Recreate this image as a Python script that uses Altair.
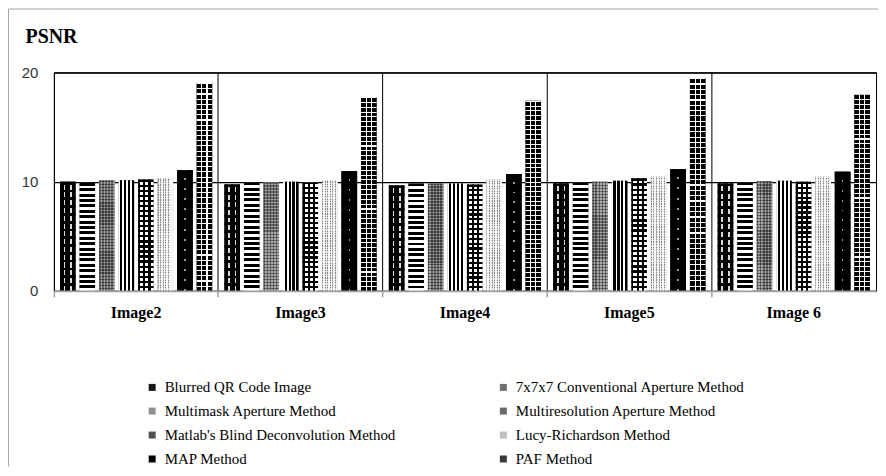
import altair as alt
import pandas as pd

categories = ["Image2", "Image3", "Image4", "Image5", "Image 6"]
methods = [
    "Blurred QR Code Image",
    "7x7x7 Conventional Aperture Method",
    "Multimask Aperture Method",
    "Multiresolution Aperture Method",
    "Matlab's Blind Deconvolution Method",
    "Lucy-Richardson Method",
    "MAP Method",
    "PAF Method",
]
blurred = [9.98, 9.74, 9.65, 9.84, 9.84]
conventional = [9.89, 9.95, 9.84, 9.95, 9.95]
multimask = [10.1, 9.95, 9.84, 10.0, 10.03]
multires = [10.13, 9.98, 9.84, 10.07, 10.07]
matlab = [10.2, 9.95, 9.74, 10.3, 10.0]
lucy = [10.32, 10.14, 10.2, 10.44, 10.44]
map_m = [11.05, 10.96, 10.7, 11.14, 10.9]
paf = [19.03, 17.75, 17.4, 19.48, 18.0]
series = [blurred, conventional, multimask, multires, matlab, lucy, map_m, paf]

rows = []
for m, vals in zip(methods, series):
    for c, v in zip(categories, vals):
        rows.append({"image": c, "method": m, "value": v})
df = pd.DataFrame(rows)

W, H = 824, 219

# ---- pattern helpers (styles only) ----
T = "rgba(0,0,0,0)"


def stops_from(segments):
    stops, pos = [], 0.0
    for col, ln in segments:
        stops.append({"offset": round(min(pos, 1.0), 4), "color": col})
        pos += ln
        stops.append({"offset": round(min(pos, 1.0), 4), "color": col})
    stops[-1]["offset"] = 1.0
    return stops


def grad(segments, direction):
    g = {"gradient": "linear", "stops": stops_from(segments)}
    if direction == "v":
        g.update(x1=0, y1=0, x2=1, y2=0)
    else:
        g.update(x1=0, y1=0, x2=0, y2=1)
    return g


def periodic(n, c1, c2, duty):
    return [(c1, duty / n), (c2, (1 - duty) / n)] * n


patterns = {
    methods[0]: [
        "#000000",
        grad([(T, .24), ("rgba(255,255,255,0.85)", .1), (T, .32), ("rgba(255,255,255,0.85)", .1), (T, .24)], "v"),
        grad(periodic(14, "#000000", T, 0.35), "h"),
    ],
    methods[1]: [
        grad(periodic(20, "#000000", "#ffffff", 0.55), "h"),
    ],
    methods[2]: [
        "#ababab",
        grad(periodic(36, "rgba(0,0,0,0.4)", T, 0.5), "h"),
        grad(periodic(5, "rgba(0,0,0,0.4)", T, 0.5), "v"),
    ],
    methods[3]: [
        grad(periodic(4, "#ffffff", "#000000", 0.42), "v"),
    ],
    methods[4]: [
        "#ffffff",
        grad(periodic(22, "#000000", T, 0.45), "h"),
        grad(periodic(3, "#000000", T, 0.4), "v"),
    ],
    methods[5]: [
        "#f2f2f2",
        grad(periodic(6, "rgba(0,0,0,0.45)", T, 0.35), "v"),
        grad(periodic(45, "rgba(255,255,255,0.6)", T, 0.5), "h"),
    ],
    methods[6]: [
        "#000000",
        grad([(T, .45), ("rgba(255,255,255,0.6)", .1), (T, .45)], "v"),
        grad(periodic(12, "#000000", T, 0.8), "h"),
    ],
    methods[7]: [
        "#000000",
        grad([(T, .3), ("#ffffff", .07), (T, .26), ("#ffffff", .07), (T, .3)], "v"),
        grad(periodic(40, "#ffffff", T, 0.22), "h"),
    ],
}
legend_colors = ["#1a1a1a", "#707070", "#909090", "#6a6a6a", "#505050", "#c0c0c0", "#000000", "#3a3a3a"]

x_enc = alt.X(
    "image:N",
    sort=categories,
    scale=alt.Scale(domain=categories, paddingInner=0, paddingOuter=0),
    axis=alt.Axis(
        title=None, labelAngle=0, labelFont="Liberation Serif", labelFontSize=16,
        labelFontWeight="bold", labelColor="black", labelPadding=8,
        domainColor="#a0a0a0", domainWidth=2, tickColor="#a0a0a0", tickWidth=1.5,
        tickSize=6, bandPosition=0, grid=True, gridColor="black", gridWidth=1, zindex=1,
    ),
)
xo_enc = alt.XOffset(
    "method:N",
    scale=alt.Scale(domain=methods, paddingInner=0.205, paddingOuter=0.314),
)
y_enc = alt.Y(
    "value:Q",
    scale=alt.Scale(domain=[0, 20], nice=False),
    axis=alt.Axis(
        values=[0, 10, 20], title="PSNR", titleAngle=0, titleX=-29, titleY=-30,
        titleAlign="left", titleBaseline="alphabetic", titleFont="Liberation Serif",
        titleFontSize=20, titleFontWeight="bold", titleColor="black",
        domain=False, ticks=False, tickSize=0, labelPadding=16,
        labelFont="Liberation Sans", labelFontSize=15, labelColor="#333333",
        grid=True, gridColor="black", gridWidth=1.5, zindex=0,
    ),
)

base = alt.Chart(df).mark_bar(strokeWidth=0).encode(
    x=x_enc,
    xOffset=xo_enc,
    y=y_enc,
    color=alt.Color(
        "method:N",
        scale=alt.Scale(domain=methods, range=legend_colors),
        legend=alt.Legend(
            title=None, orient="none", legendX=91, legendY=308, columns=2,
            direction="horizontal",
            columnPadding=100, rowPadding=8, symbolType="square", symbolSize=49,
            symbolStrokeWidth=0, labelFont="Liberation Serif", labelFontSize=15,
            labelColor="black", labelOffset=5, labelLimit=400, padding=0,
        ),
    ),
)

layers = [base]
for m in methods:
    for fill in patterns[m]:
        layers.append(
            alt.Chart(df)
            .transform_filter(alt.FieldEqualPredicate(field="method", equal=m))
            .mark_bar(fill=fill, strokeWidth=0)
            .encode(x=x_enc, xOffset=xo_enc, y=y_enc)
        )

frame_df = pd.DataFrame({"k": [0]})
frame_left = alt.Chart(frame_df).mark_rule(color="#a6a6a6", strokeWidth=1).encode(
    x=alt.value(-45.5), y=alt.value(-63.5), y2=alt.value(H + 176)
)
frame_top = alt.Chart(frame_df).mark_rule(color="#a6a6a6", strokeWidth=1).encode(
    x=alt.value(-45.5), x2=alt.value(W + 10), y=alt.value(-63.5)
)
layers += [frame_left, frame_top]

chart = (
    alt.layer(*layers)
    .properties(
        width=W,
        height=H,
        padding={"left": 46, "top": 64, "right": 2, "bottom": 176},
        autosize=alt.AutoSizeParams(type="none"),
        background="white",
    )
    .configure_view(stroke="black", strokeWidth=1)
)

chart.save("out.html", embed_options={"renderer": "svg", "actions": False})
